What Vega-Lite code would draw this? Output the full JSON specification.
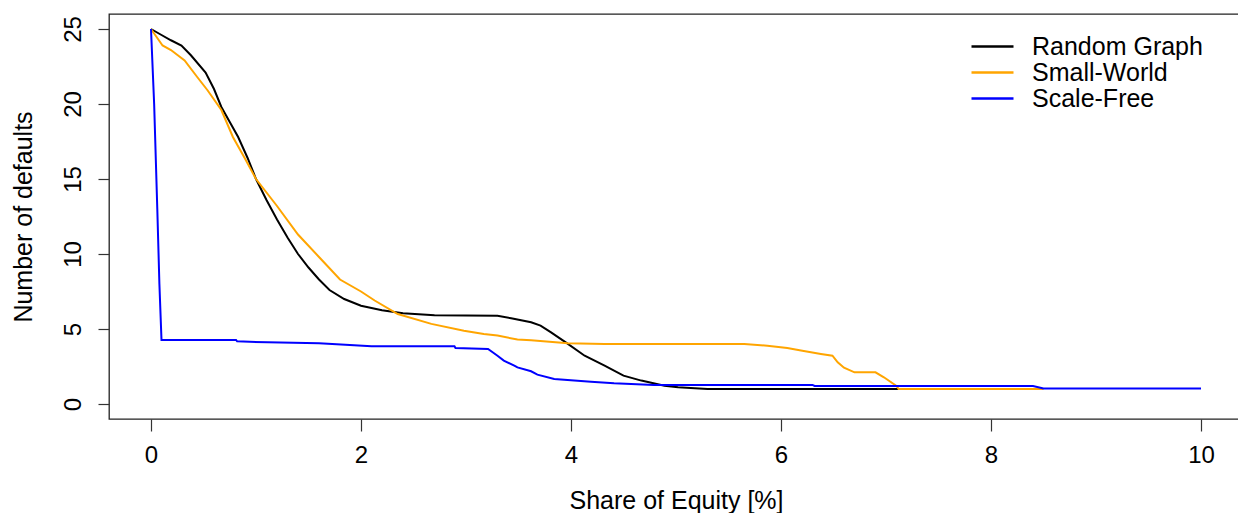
{
  "$schema": "https://vega.github.io/schema/vega-lite/v6.json",
  "width": 1134,
  "height": 405,
  "autosize": {"type": "none"},
  "padding": {"left": 109, "top": 14, "right": 0, "bottom": 94},
  "background": "white",
  "config": {
    "font": "Liberation Sans",
    "view": {"stroke": "#222", "strokeWidth": 1.3},
    "axis": {
      "domain": false, "grid": false, "tickColor": "#333", "tickWidth": 1.2,
      "labelFont": "Liberation Sans", "labelFontSize": 24, "labelColor": "#000",
      "titleFont": "Liberation Sans", "titleFontSize": 25, "titleFontWeight": "normal", "titleColor": "#000"
    },
    "legend": {"labelFont": "Liberation Sans", "labelFontSize": 25, "labelColor": "#000", "labelLimit": 400}
  },
  "data": {"values": [
    {"s":"Random Graph","x":0,"y":25},{"s":"Random Graph","x":0.1,"y":24.6},{"s":"Random Graph","x":0.19,"y":24.25},{"s":"Random Graph","x":0.29,"y":23.9},{"s":"Random Graph","x":0.38,"y":23.25},{"s":"Random Graph","x":0.52,"y":22.1},{"s":"Random Graph","x":0.6,"y":21.0},{"s":"Random Graph","x":0.67,"y":19.8},{"s":"Random Graph","x":0.75,"y":18.8},{"s":"Random Graph","x":0.83,"y":17.8},{"s":"Random Graph","x":0.92,"y":16.4},{"s":"Random Graph","x":1.0,"y":15.0},{"s":"Random Graph","x":1.1,"y":13.6},{"s":"Random Graph","x":1.2,"y":12.3},{"s":"Random Graph","x":1.3,"y":11.1},{"s":"Random Graph","x":1.4,"y":10.0},{"s":"Random Graph","x":1.5,"y":9.1},{"s":"Random Graph","x":1.6,"y":8.3},{"s":"Random Graph","x":1.7,"y":7.6},{"s":"Random Graph","x":1.84,"y":7.0},{"s":"Random Graph","x":2.0,"y":6.55},{"s":"Random Graph","x":2.2,"y":6.25},{"s":"Random Graph","x":2.4,"y":6.05},{"s":"Random Graph","x":2.7,"y":5.92},{"s":"Random Graph","x":3.3,"y":5.88},{"s":"Random Graph","x":3.43,"y":5.72},{"s":"Random Graph","x":3.62,"y":5.45},{"s":"Random Graph","x":3.71,"y":5.23},{"s":"Random Graph","x":3.81,"y":4.78},{"s":"Random Graph","x":3.95,"y":4.11},{"s":"Random Graph","x":4.13,"y":3.22},{"s":"Random Graph","x":4.32,"y":2.56},{"s":"Random Graph","x":4.5,"y":1.89},{"s":"Random Graph","x":4.67,"y":1.56},{"s":"Random Graph","x":4.89,"y":1.22},{"s":"Random Graph","x":5.02,"y":1.11},{"s":"Random Graph","x":5.3,"y":1.0},{"s":"Random Graph","x":7.5,"y":1.0},
    {"s":"Small-World","x":0,"y":25},{"s":"Small-World","x":0.11,"y":23.9},{"s":"Small-World","x":0.19,"y":23.6},{"s":"Small-World","x":0.32,"y":22.9},{"s":"Small-World","x":0.44,"y":21.8},{"s":"Small-World","x":0.54,"y":20.9},{"s":"Small-World","x":0.67,"y":19.6},{"s":"Small-World","x":0.78,"y":17.8},{"s":"Small-World","x":0.9,"y":16.3},{"s":"Small-World","x":1.0,"y":15.0},{"s":"Small-World","x":1.2,"y":13.2},{"s":"Small-World","x":1.4,"y":11.3},{"s":"Small-World","x":1.6,"y":9.8},{"s":"Small-World","x":1.8,"y":8.3},{"s":"Small-World","x":2.0,"y":7.5},{"s":"Small-World","x":2.13,"y":6.9},{"s":"Small-World","x":2.35,"y":6.0},{"s":"Small-World","x":2.67,"y":5.34},{"s":"Small-World","x":2.98,"y":4.89},{"s":"Small-World","x":3.17,"y":4.67},{"s":"Small-World","x":3.3,"y":4.56},{"s":"Small-World","x":3.49,"y":4.3},{"s":"Small-World","x":3.62,"y":4.25},{"s":"Small-World","x":3.97,"y":4.05},{"s":"Small-World","x":4.32,"y":4.0},{"s":"Small-World","x":5.65,"y":4.0},{"s":"Small-World","x":5.87,"y":3.89},{"s":"Small-World","x":6.06,"y":3.73},{"s":"Small-World","x":6.19,"y":3.56},{"s":"Small-World","x":6.38,"y":3.34},{"s":"Small-World","x":6.49,"y":3.22},{"s":"Small-World","x":6.54,"y":2.78},{"s":"Small-World","x":6.6,"y":2.42},{"s":"Small-World","x":6.7,"y":2.11},{"s":"Small-World","x":6.9,"y":2.11},{"s":"Small-World","x":6.98,"y":1.78},{"s":"Small-World","x":7.1,"y":1.2},{"s":"Small-World","x":7.12,"y":1.0},{"s":"Small-World","x":8.5,"y":1.0},
    {"s":"Scale-Free","x":0,"y":25},{"s":"Scale-Free","x":0.03,"y":20},{"s":"Scale-Free","x":0.06,"y":13},{"s":"Scale-Free","x":0.08,"y":8},{"s":"Scale-Free","x":0.1,"y":4.27},{"s":"Scale-Free","x":0.81,"y":4.27},{"s":"Scale-Free","x":0.82,"y":4.18},{"s":"Scale-Free","x":1.11,"y":4.11},{"s":"Scale-Free","x":1.6,"y":4.05},{"s":"Scale-Free","x":1.81,"y":3.96},{"s":"Scale-Free","x":2.1,"y":3.85},{"s":"Scale-Free","x":2.89,"y":3.85},{"s":"Scale-Free","x":2.9,"y":3.73},{"s":"Scale-Free","x":3.21,"y":3.67},{"s":"Scale-Free","x":3.3,"y":3.22},{"s":"Scale-Free","x":3.36,"y":2.89},{"s":"Scale-Free","x":3.46,"y":2.56},{"s":"Scale-Free","x":3.49,"y":2.44},{"s":"Scale-Free","x":3.62,"y":2.18},{"s":"Scale-Free","x":3.68,"y":1.96},{"s":"Scale-Free","x":3.84,"y":1.67},{"s":"Scale-Free","x":4.19,"y":1.49},{"s":"Scale-Free","x":4.41,"y":1.38},{"s":"Scale-Free","x":4.79,"y":1.27},{"s":"Scale-Free","x":6.3,"y":1.27},{"s":"Scale-Free","x":6.32,"y":1.2},{"s":"Scale-Free","x":8.4,"y":1.2},{"s":"Scale-Free","x":8.5,"y":1.04},{"s":"Scale-Free","x":10,"y":1.04}
  ]},
  "mark": {"type": "line", "strokeWidth": 2, "interpolate": "linear"},
  "encoding": {
    "x": {"field": "x", "type": "quantitative", "scale": {"domain": [-0.4, 10.4], "nice": false, "zero": false},
      "axis": {"title": "Share of Equity [%]", "values": [0, 2, 4, 6, 8, 10], "tickSize": 12, "labelPadding": 12, "titlePadding": 21}},
    "y": {"field": "y", "type": "quantitative", "scale": {"domain": [-1, 26], "nice": false, "zero": false},
      "axis": {"title": "Number of defaults", "values": [0, 5, 10, 15, 20, 25], "tickSize": 11, "labelAngle": -90, "labelAlign": "center", "labelBaseline": "bottom", "labelPadding": 13, "titlePadding": 25}},
    "color": {"field": "s", "type": "nominal",
      "scale": {"domain": ["Random Graph", "Small-World", "Scale-Free"], "range": ["#000000", "#FFA500", "#0000FF"]},
      "legend": {"title": null, "orient": "none", "legendX": 871, "legendY": 20, "symbolType": "M-3,0H3", "symbolSize": 196, "symbolStrokeWidth": 2.5, "labelOffset": 27, "rowPadding": -1, "padding": 0}}
  }
}
